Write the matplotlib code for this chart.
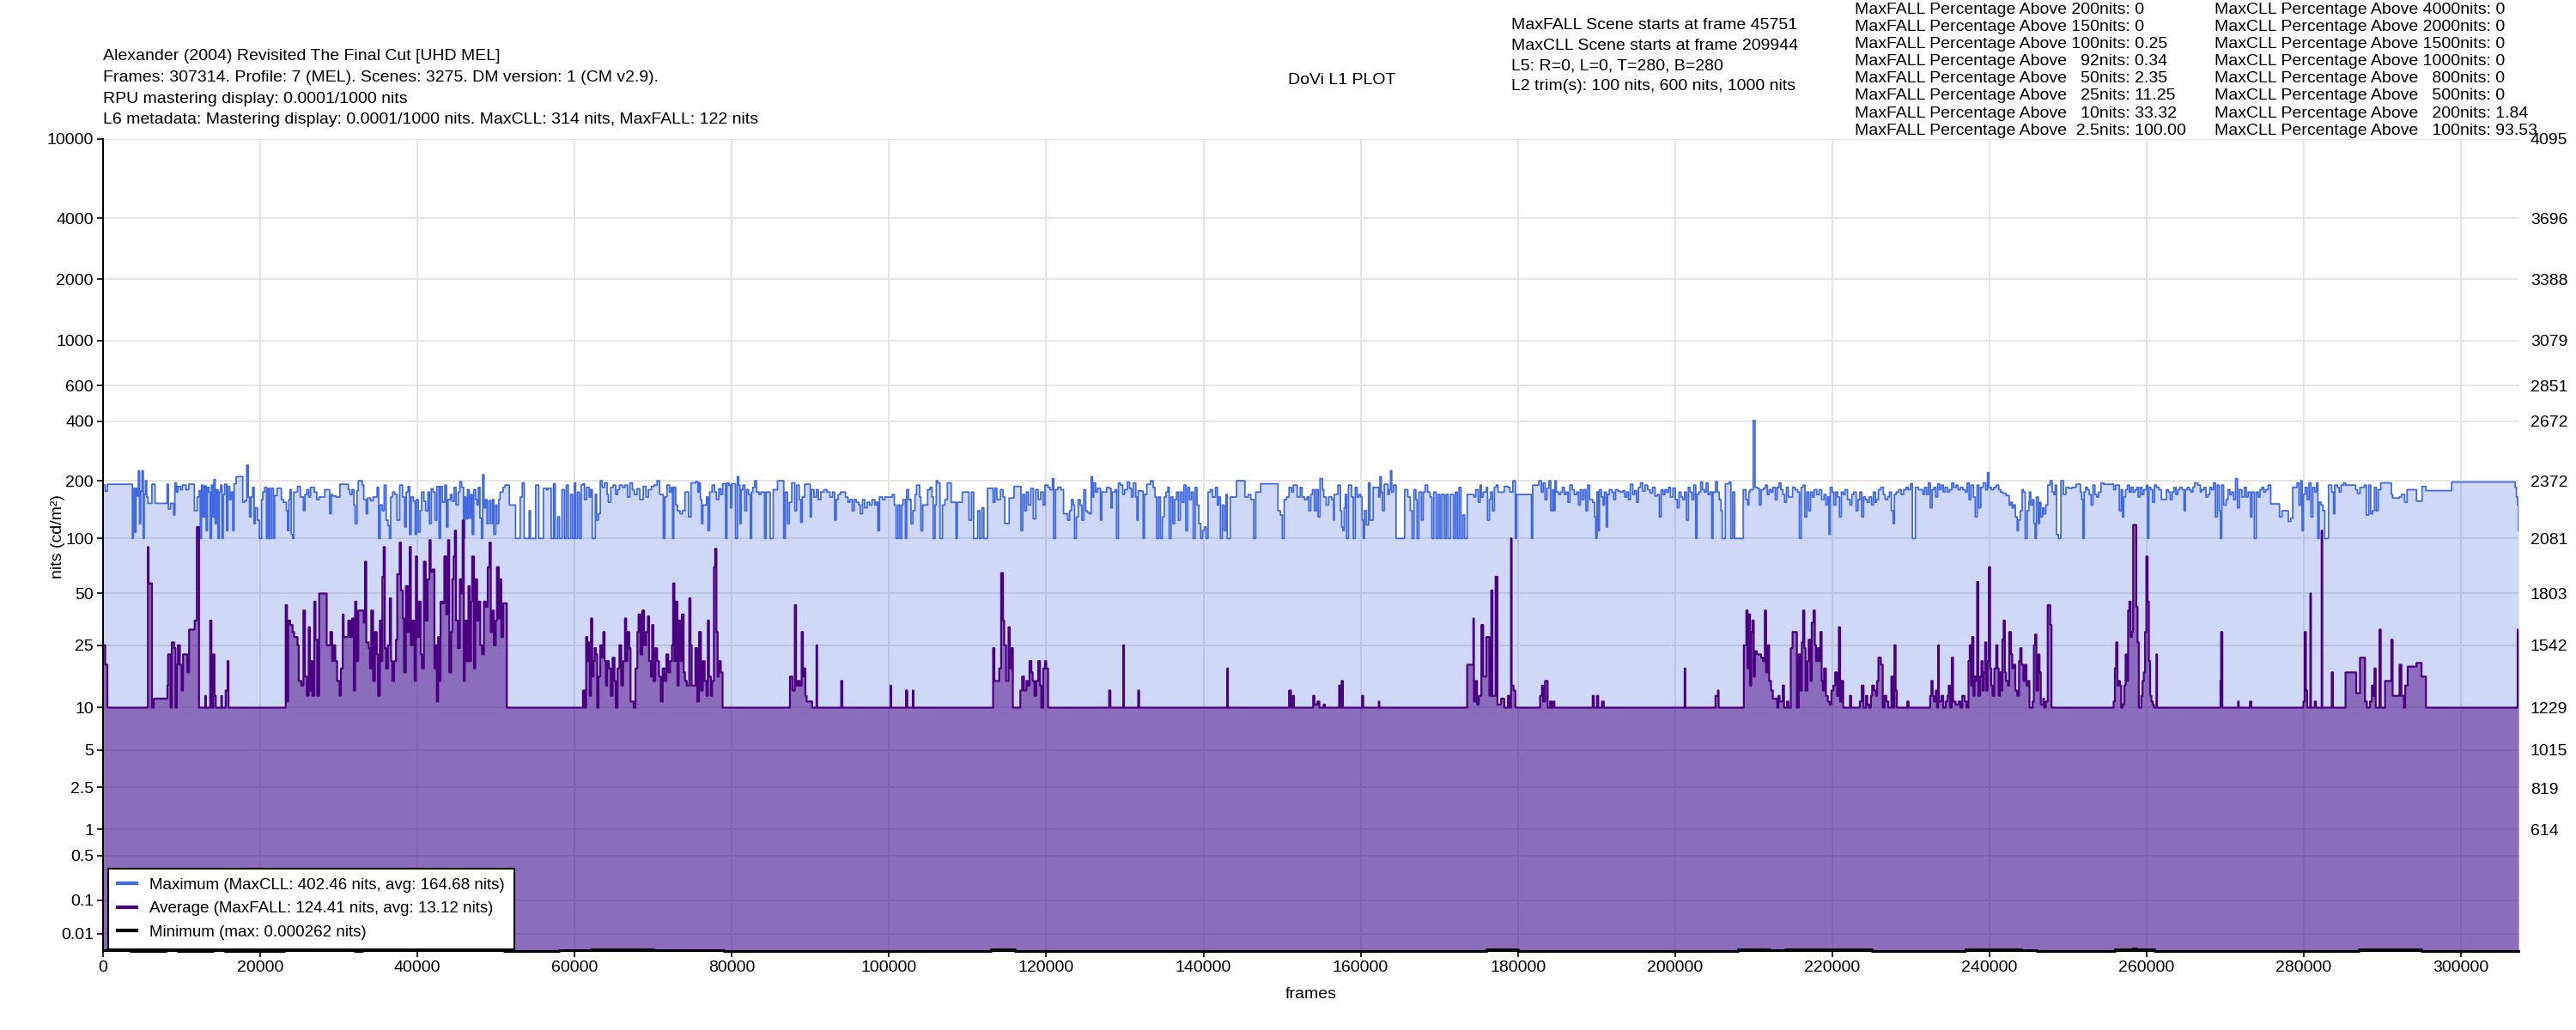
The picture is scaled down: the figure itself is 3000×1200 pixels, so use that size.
#!/usr/bin/env python3
"""DoVi L1 plot: per-scene max / average / min brightness on a PQ axis."""

import numpy as np
import matplotlib
matplotlib.use('Agg')
import matplotlib.pyplot as plt
from matplotlib.lines import Line2D

plt.rcParams['font.family'] = ['Liberation Sans', 'DejaVu Sans']

TOTAL_FRAMES = 307314

# Scene data (start frame, nits)
max_start = [
    0, 275, 550, 3740, 3860, 4020, 4180, 4330, 4490, 4650,
    4800, 4960, 5120, 5240, 5400, 5550, 5710, 6220, 6620, 8150,
    8310, 8590, 8980, 9140, 9340, 9530, 9850, 10090, 10560, 10910,
    11620, 11980, 12210, 12370, 12530, 12720, 12920, 13120, 13280, 13470,
    13630, 13790, 13950, 14110, 14260, 14420, 14620, 14780, 14970, 15130,
    15290, 15480, 15720, 15880, 16110, 16310, 16510, 16670, 16940, 17770,
    18010, 18280, 18480, 18640, 18830, 19030, 19220, 19380, 19660, 19900,
    20170, 20330, 20560, 20800, 21000, 21200, 21430, 21670, 21830, 22140,
    22690, 22930, 23320, 23480, 23640, 23800, 23950, 24110, 24270, 24740,
    25100, 25490, 25690, 25930, 26160, 26400, 26870, 27190, 27500, 28210,
    28840, 29040, 29230, 29630, 30140, 31200, 31400, 31680, 31910, 32070,
    32310, 32470, 32980, 33170, 33490, 33650, 34040, 34360, 34870, 35060,
    35260, 35540, 35770, 36010, 36240, 36440, 36600, 36840, 37110, 37390,
    37740, 38100, 38370, 38570, 38810, 39010, 39200, 39480, 39720, 39870,
    40110, 40340, 40540, 40820, 41050, 41330, 41530, 41760, 42000, 42240,
    42470, 42750, 42940, 43180, 43490, 43690, 43890, 44200, 44400, 44680,
    44910, 45190, 45390, 45620, 45860, 46020, 46170, 46370, 46570, 46770,
    46960, 47160, 47400, 47590, 47750, 47950, 48150, 48300, 48460, 48660,
    48850, 49090, 49330, 49560, 49720, 49960, 50110, 50350, 50510, 50900,
    51140, 51690, 52480, 53070, 53340, 53580, 54210, 54370, 55040, 55430,
    56020, 56420, 56610, 57010, 57320, 57520, 57840, 58070, 58390, 58700,
    58940, 59180, 59490, 59730, 59970, 60120, 60360, 60600, 60830, 61060,
    61260, 61530, 61850, 62050, 62240, 62630, 62790, 63030, 63260, 63500,
    63810, 64130, 64280, 64600, 64910, 65230, 65460, 65700, 66090, 66400,
    66720, 67030, 67350, 67580, 67940, 68290, 68720, 69080, 69390, 69780,
    70100, 70490, 70810, 71040, 71280, 71470, 71750, 72060, 72300, 72460,
    72610, 72850, 73080, 73400, 73710, 74030, 74260, 74500, 74810, 75400,
    75680, 75830, 75990, 76150, 76310, 76540, 76780, 76970, 77170, 77490,
    77800, 78040, 78350, 78590, 78820, 79210, 79370, 79610, 79840, 80000,
    80470, 80710, 80870, 81020, 81180, 81410, 81650, 81880, 82120, 82360,
    82510, 82670, 82910, 83140, 83460, 83690, 84160, 84360, 84870, 85260,
    85810, 86600, 86800, 87070, 87310, 87620, 88010, 88250, 88570, 88760,
    88960, 89270, 89980, 90130, 90450, 90760, 91000, 91310, 91710, 92100,
    92490, 92810, 93080, 93280, 93520, 93830, 94460, 94770, 95010, 95320,
    95560, 95830, 96150, 96340, 96620, 96900, 97210, 97520, 97840, 98190,
    98390, 98580, 98780, 99170, 99490, 99960, 100430, 100670, 100900, 101140,
    101380, 101610, 101770, 102080, 102240, 102480, 102790, 103030, 103300, 103500,
    103890, 104050, 104280, 104600, 104910, 105230, 105460, 105620, 105850, 106010,
    106170, 106480, 106800, 107110, 107420, 107900, 108520, 108680, 109310, 110170,
    110490, 110760, 111280, 111550, 111820, 112060, 112530, 113240, 113470, 113710,
    114180, 114500, 114730, 115280, 115910, 116780, 117010, 117250, 117480, 117720,
    118030, 118350, 118660, 118980, 119290, 119610, 119840, 120230, 120470, 120790,
    120950, 121180, 121490, 121880, 122200, 122500, 122730, 122970, 123200, 123440,
    123600, 123830, 124070, 124310, 124540, 124780, 125020, 125250, 125490, 125720,
    125880, 126040, 126270, 126510, 126900, 127060, 127690, 128000, 128240, 128400,
    128750, 128950, 129180, 129420, 129730, 129970, 130320, 130600, 130840, 131070,
    131390, 131540, 131700, 132020, 132330, 132490, 132800, 133270, 133590, 133830,
    134060, 134300, 134530, 134770, 135010, 135240, 135480, 135640, 135870, 136110,
    136340, 136580, 136810, 137050, 137290, 137520, 137760, 137990, 138230, 138470,
    138700, 138940, 139170, 139410, 139650, 139880, 140120, 140350, 140590, 140900,
    141140, 141530, 141770, 141930, 142160, 142400, 142640, 142870, 143030, 143420,
    144210, 145270, 145700, 146020, 146410, 146650, 147280, 149480, 149790, 150030,
    150270, 150580, 150890, 151210, 151440, 151920, 152310, 152550, 152860, 153180,
    153410, 153650, 153880, 154120, 154350, 154590, 154830, 155140, 155300, 155610,
    155930, 156320, 156560, 156640, 157110, 157420, 157580, 157740, 157900, 158050,
    158210, 158450, 158840, 159070, 159310, 159540, 159780, 160020, 160180, 160330,
    160490, 160730, 161000, 161200, 161590, 162300, 162460, 162620, 162770, 163010,
    163480, 163640, 163800, 163950, 164190, 164500, 165600, 166000, 166310, 166550,
    166780, 167020, 167180, 167410, 167730, 167960, 168200, 168510, 168830, 169060,
    169300, 169610, 169850, 170090, 170320, 170640, 170870, 171110, 171430, 171820,
    172050, 172290, 172520, 172760, 173000, 173230, 173550, 174410, 174650, 174960,
    175200, 175360, 175590, 175990, 176140, 176380, 176540, 176770, 177010, 177250,
    177480, 177870, 178270, 178740, 178980, 179370, 179680, 179840, 181730, 181890,
    182440, 182670, 182990, 183220, 183460, 183700, 183950, 184180, 184420, 184570,
    184730, 184890, 185200, 185440, 185670, 185910, 186140, 186380, 186620, 186930,
    187170, 187480, 187720, 187950, 188190, 188420, 188660, 188890, 189130, 189520,
    189760, 189910, 190070, 190230, 190380, 190620, 190850, 191010, 191250, 191400,
    191640, 191960, 192190, 192430, 192740, 193050, 193370, 193600, 193840, 194070,
    194310, 194620, 194860, 195090, 195330, 195600, 195880, 196190, 196510, 196820,
    197140, 197450, 197760, 198000, 198230, 198470, 198710, 198940, 199180, 199410,
    199730, 200040, 200280, 200510, 200750, 200980, 201220, 201450, 201690, 201920,
    202160, 202390, 202630, 202790, 203020, 203260, 203490, 203730, 203960, 204200,
    204430, 204670, 204830, 205140, 205380, 205610, 205850, 206000, 206400, 206870,
    207100, 207340, 207580, 208680, 209000, 209230, 209390, 209540, 209944, 210170,
    210480, 210720, 210950, 211270, 211500, 211740, 211970, 212210, 212440, 212760,
    212990, 213230, 213460, 213700, 213930, 214170, 214410, 214720, 214950, 215270,
    215580, 215820, 216050, 216290, 216520, 216760, 216990, 217230, 217470, 217700,
    218020, 218330, 218650, 218960, 219200, 219430, 219590, 219740, 219980, 220210,
    220450, 220680, 220920, 221160, 221390, 221630, 221940, 222250, 222490, 222730,
    223040, 223280, 223510, 223750, 223980, 224220, 224450, 224690, 225000, 225240,
    225480, 225630, 225870, 226180, 226500, 226730, 227050, 227280, 227520, 227750,
    227910, 228140, 228460, 228770, 229090, 229400, 229640, 229950, 230190, 230580,
    230980, 231290, 231530, 231760, 232000, 232230, 232470, 232700, 232940, 233170,
    233410, 233650, 233880, 234120, 234350, 234660, 234900, 235210, 235450, 235760,
    236000, 236310, 236620, 236940, 237170, 237410, 237640, 237960, 238190, 238430,
    238660, 238900, 239210, 239530, 239760, 239920, 240230, 240550, 240860, 241170,
    241410, 241720, 242110, 242510, 242740, 242900, 243060, 243290, 243530, 243680,
    243920, 244160, 244320, 244550, 244790, 245020, 245090, 245250, 245490, 245650,
    245810, 245970, 246210, 246370, 246530, 246770, 246930, 247170, 247410, 247730,
    247970, 248210, 248370, 248530, 248770, 249090, 249410, 249730, 250130, 250530,
    251010, 251570, 251730, 251890, 252050, 252210, 252450, 252690, 252930, 253170,
    253410, 253650, 253890, 254200, 254520, 255800, 256040, 256280, 256520, 256760,
    256920, 257080, 257320, 257560, 257800, 258040, 258280, 258520, 258760, 258920,
    259160, 259400, 259640, 259960, 260120, 260280, 260520, 260760, 261000, 261240,
    261560, 261880, 262520, 262760, 263000, 263240, 263480, 263720, 263960, 264200,
    264520, 264760, 264920, 265160, 265400, 265640, 265870, 266110, 266510, 266830,
    266990, 267310, 267550, 267790, 268030, 268270, 268510, 268750, 268990, 269230,
    269390, 269550, 269790, 270110, 270350, 270590, 270830, 271070, 271310, 271550,
    271790, 272110, 272430, 272670, 272910, 273230, 273390, 273700, 273950, 274190,
    274420, 274660, 274900, 275140, 275460, 275780, 276900, 277220, 278020, 278340,
    278580, 279140, 279380, 279620, 279780, 279940, 280180, 280420, 280660, 280900,
    281140, 281380, 281620, 281780, 281940, 282180, 282420, 282660, 283140, 283540,
    283780, 283940, 284260, 284500, 284740, 285060, 285300, 286580, 286820, 287140,
    287700, 287940, 288260, 288500, 288740, 288980, 289220, 289460, 289780, 291130,
    291290, 292170, 292410, 292810, 293130, 294330, 295050, 295530, 298810, 306880,
    307040, 307200, 307300,
]
max_nits = [
    190, 177, 192, 100, 183, 108, 183, 167, 225, 120,
    177, 225, 100, 170, 200, 165, 153, 192, 153, 192,
    143, 153, 133, 195, 175, 187, 180, 190, 180, 192,
    140, 165, 178, 100, 190, 130, 188, 110, 185, 175,
    100, 190, 130, 203, 120, 180, 100, 175, 190, 100,
    170, 192, 110, 187, 160, 175, 110, 193, 210, 155,
    158, 240, 165, 130, 165, 185, 120, 145, 125, 100,
    160, 175, 185, 100, 183, 100, 183, 100, 168, 183,
    160, 155, 140, 110, 160, 180, 105, 100, 175, 187,
    165, 140, 170, 180, 165, 185, 175, 160, 165, 180,
    135, 170, 167, 165, 192, 180, 170, 180, 150, 120,
    178, 200, 190, 160, 135, 163, 158, 165, 185, 100,
    150, 140, 190, 125, 117, 100, 165, 175, 170, 125,
    190, 165, 115, 175, 187, 105, 165, 157, 105, 160,
    108, 140, 175, 157, 140, 175, 120, 182, 175, 125,
    187, 100, 187, 155, 190, 115, 160, 170, 157, 185,
    150, 175, 198, 185, 100, 165, 127, 180, 128, 170,
    105, 180, 160, 150, 185, 128, 100, 215, 145, 160,
    120, 158, 120, 160, 105, 150, 120, 160, 175, 185,
    190, 150, 100, 165, 195, 100, 140, 100, 190, 100,
    183, 180, 183, 100, 193, 100, 130, 100, 180, 100,
    190, 100, 170, 100, 195, 100, 175, 100, 190, 193,
    160, 185, 165, 180, 100, 170, 125, 135, 200, 185,
    195, 170, 155, 185, 190, 170, 180, 190, 185, 190,
    165, 195, 180, 170, 182, 160, 187, 165, 180, 187,
    190, 200, 170, 170, 100, 165, 190, 175, 185, 100,
    185, 150, 140, 135, 140, 175, 175, 130, 195, 198,
    175, 195, 160, 120, 150, 150, 165, 110, 175, 190,
    175, 160, 182, 170, 193, 100, 195, 190, 145, 193,
    100, 210, 190, 120, 180, 190, 140, 180, 170, 100,
    175, 185, 200, 175, 170, 175, 100, 175, 100, 180,
    200, 100, 175, 120, 155, 195, 140, 190, 160, 122,
    165, 192, 130, 180, 165, 180, 160, 175, 180, 175,
    165, 175, 125, 160, 170, 175, 165, 155, 160, 140,
    160, 155, 150, 135, 160, 145, 155, 150, 160, 150,
    155, 110, 165, 160, 165, 165, 170, 150, 100, 150,
    100, 150, 160, 100, 180, 160, 120, 140, 170, 190,
    165, 110, 150, 150, 180, 185, 165, 100, 150, 200,
    195, 100, 150, 160, 195, 155, 100, 155, 175, 125,
    175, 100, 140, 100, 145, 100, 183, 155, 183, 160,
    180, 165, 120, 163, 187, 110, 170, 140, 175, 150,
    183, 127, 180, 160, 175, 150, 190, 185, 180, 205,
    100, 180, 185, 180, 135, 135, 125, 140, 160, 150,
    100, 130, 160, 150, 125, 180, 140, 137, 135, 210,
    165, 195, 175, 183, 125, 175, 185, 183, 145, 175,
    180, 100, 195, 190, 170, 180, 197, 183, 165, 195,
    165, 125, 178, 177, 100, 170, 192, 200, 185, 165,
    100, 165, 100, 130, 165, 175, 185, 100, 165, 120,
    160, 175, 125, 175, 155, 190, 110, 185, 160, 175,
    100, 185, 150, 120, 100, 110, 115, 100, 175, 180,
    165, 185, 150, 165, 100, 150, 110, 170, 100, 165,
    200, 165, 170, 160, 100, 175, 193, 140, 133, 100,
    160, 165, 185, 175, 190, 165, 185, 165, 160, 165,
    140, 170, 180, 140, 180, 130, 205, 180, 165, 150,
    165, 160, 125, 170, 190, 140, 115, 110, 145, 170,
    100, 190, 165, 100, 185, 165, 170, 165, 125, 100,
    140, 118, 195, 125, 185, 165, 210, 175, 140, 192,
    170, 180, 225, 175, 190, 100, 180, 165, 140, 100,
    180, 160, 100, 175, 125, 175, 190, 175, 165, 100,
    175, 100, 170, 100, 170, 100, 170, 100, 170, 100,
    175, 100, 185, 100, 133, 100, 170, 165, 180, 155,
    190, 165, 175, 185, 125, 160, 175, 140, 185, 190,
    175, 175, 187, 185, 175, 200, 100, 170, 100, 190,
    190, 200, 175, 195, 160, 183, 200, 140, 180, 140,
    200, 175, 170, 175, 185, 170, 175, 155, 190, 180,
    170, 175, 150, 180, 160, 180, 140, 190, 160, 155,
    130, 100, 175, 110, 180, 165, 150, 175, 115, 170,
    180, 175, 160, 180, 177, 175, 178, 165, 175, 160,
    192, 170, 178, 155, 185, 195, 177, 190, 180, 173,
    185, 167, 170, 130, 180, 170, 180, 175, 185, 165,
    183, 160, 145, 175, 165, 160, 175, 125, 185, 175,
    160, 190, 100, 170, 175, 197, 180, 175, 195, 170,
    175, 100, 175, 198, 175, 160, 140, 100, 193, 197,
    100, 175, 100, 180, 160, 150, 175, 180, 402.46, 185,
    183, 150, 180, 183, 190, 170, 180, 175, 185, 160,
    185, 195, 180, 170, 155, 185, 165, 165, 185, 180,
    175, 100, 185, 190, 130, 175, 140, 175, 165, 180,
    170, 180, 160, 170, 150, 165, 105, 185, 175, 150,
    175, 165, 130, 175, 170, 180, 160, 150, 170, 175,
    140, 160, 175, 130, 165, 160, 155, 165, 150, 175,
    155, 160, 180, 185, 170, 160, 165, 175, 140, 120,
    170, 175, 180, 170, 180, 185, 180, 193, 100, 185,
    180, 180, 170, 185, 170, 195, 145, 180, 185, 165,
    193, 180, 190, 175, 185, 175, 180, 195, 185, 190,
    180, 185, 180, 175, 195, 160, 190, 165, 130, 190,
    145, 185, 195, 180, 220, 185, 180, 185, 190, 180,
    175, 172, 168, 150, 155, 145, 150, 130, 110, 125,
    140, 180, 175, 100, 140, 155, 175, 150, 160, 120,
    100, 165, 120, 155, 130, 145, 135, 150, 190, 200,
    175, 170, 190, 105, 100, 200, 170, 185, 183, 185,
    192, 175, 160, 100, 175, 185, 180, 170, 150, 190,
    170, 165, 175, 195, 192, 180, 190, 190, 140, 180,
    130, 165, 180, 190, 175, 185, 175, 180, 185, 165,
    185, 170, 180, 190, 100, 185, 180, 155, 190, 185,
    180, 160, 180, 175, 160, 175, 185, 170, 180, 185,
    180, 140, 180, 185, 180, 175, 185, 195, 190, 175,
    180, 185, 165, 170, 185, 180, 195, 130, 190, 140,
    100, 190, 150, 160, 180, 170, 175, 160, 205, 145,
    180, 165, 185, 165, 175, 130, 175, 100, 175, 165,
    180, 185, 175, 180, 190, 152, 130, 140, 123, 128,
    185, 195, 150, 200, 110, 170, 185, 160, 195, 130,
    185, 175, 195, 100, 155, 150, 140, 100, 190, 175,
    135, 190, 185, 175, 190, 195, 190, 180, 172, 185,
    190, 133, 190, 135, 140, 185, 140, 180, 195, 170,
    163, 165, 170, 155, 180, 157, 187, 178, 197, 185,
    165, 150, 110,
]

avg_start = [
    0, 275, 550, 5710, 5790, 6220, 6460, 8190, 8270, 8590,
    8750, 9060, 9220, 9380, 9530, 9770, 10010, 10170, 10480, 10720,
    10950, 11660, 11940, 12210, 13000, 13080, 13630, 13790, 14020, 14180,
    14340, 15050, 15130, 15600, 15840, 15960, 23240, 23400, 23560, 23800,
    24110, 24310, 24740, 24900, 25220, 25490, 25690, 25930, 26160, 26320,
    26480, 26630, 26870, 27030, 27260, 27500, 28450, 28920, 29150, 29310,
    29550, 29780, 30100, 30260, 30500, 30610, 31200, 31440, 31680, 31910,
    32070, 32230, 32470, 33170, 33330, 33490, 33800, 33960, 34120, 34360,
    34590, 34830, 34990, 35220, 35380, 35540, 35700, 35850, 36010, 36240,
    36480, 36640, 36800, 37030, 37270, 37430, 37740, 37900, 38140, 38290,
    38530, 38770, 39010, 39160, 39400, 39640, 39800, 39950, 40190, 40420,
    40580, 40820, 41050, 41290, 41530, 41680, 41920, 42160, 42320, 42470,
    42630, 42790, 42940, 43180, 43420, 43660, 43890, 44050, 44290, 44440,
    44600, 44760, 44910, 45150, 45390, 45620, 45751, 45900, 46020, 46260,
    46490, 46650, 46810, 46960, 47200, 47360, 47590, 47750, 47990, 48220,
    48460, 48700, 48940, 49170, 49330, 49560, 49720, 49960, 50110, 50350,
    50510, 50670, 50900, 51370, 61060, 61300, 61460, 61610, 61770, 61930,
    62080, 62240, 62400, 62550, 62710, 62870, 63030, 63260, 63500, 63650,
    63810, 63970, 64130, 64360, 64600, 64830, 65070, 65230, 65460, 65700,
    65930, 66170, 66400, 66560, 66720, 66950, 67110, 67500, 67740, 67980,
    68130, 68370, 68610, 68840, 69080, 69310, 69470, 69700, 69860, 70020,
    70260, 70490, 70730, 70960, 71200, 71440, 71670, 71910, 72140, 72380,
    72530, 72690, 72850, 73080, 73240, 73480, 73640, 73870, 74030, 74260,
    74580, 74740, 74890, 75360, 75600, 75830, 76070, 76310, 76540, 76780,
    76940, 77090, 77330, 77490, 77720, 77880, 78040, 78190, 78350, 78590,
    78820, 87390, 87700, 88010, 88170, 88410, 88640, 88880, 89040, 89200,
    89350, 89510, 90220, 90770, 90850, 93910, 94060, 100200, 100270, 102160,
    102320, 103020, 103100, 113240, 113400, 113710, 114020, 114260, 114500, 114650,
    114890, 115200, 115360, 115600, 115750, 116700, 116930, 117170, 117480, 117640,
    117870, 118110, 118270, 118500, 118740, 118980, 119210, 119370, 119610, 119840,
    120000, 120230, 128000, 128160, 129810, 129890, 131700, 131820, 143030, 143110,
    150890, 151130, 151370, 151520, 153960, 154120, 154510, 154750, 155300, 155450,
    157260, 157420, 157580, 157740, 160180, 160330, 162300, 162380, 173550, 174340,
    174410, 174650, 174810, 175040, 175360, 175590, 175990, 176380, 176620, 176770,
    177170, 177400, 177870, 178270, 178740, 178900, 179130, 179210, 179450, 179680,
    182830, 183070, 183220, 183460, 183790, 184100, 184260, 184500, 184650, 189520,
    189680, 190070, 190230, 190700, 190930, 201220, 201300, 205140, 205460, 205540,
    208750, 209070, 209230, 209390, 209540, 209700, 209850, 210010, 210170, 210400,
    210720, 210950, 211190, 211420, 211580, 211820, 211970, 212210, 212440, 212680,
    212990, 213150, 213300, 213540, 213700, 213860, 214250, 214410, 214720, 214950,
    215270, 215500, 215740, 215900, 216130, 216290, 216450, 216600, 216840, 217000,
    217230, 217390, 217620, 217780, 217940, 218170, 218330, 218490, 218650, 218800,
    218960, 219190, 219430, 219660, 219900, 220140, 220370, 220610, 220840, 221000,
    221160, 221390, 222250, 222410, 223510, 223750, 223980, 224300, 224450, 224690,
    224920, 225080, 225320, 225560, 225710, 225870, 226180, 226420, 226650, 226890,
    227130, 227520, 227750, 227910, 228060, 228220, 229550, 229710, 232460, 232610,
    232770, 232930, 233170, 233330, 233480, 233560, 233880, 234120, 234430, 234660,
    234820, 234980, 235210, 235370, 235680, 236070, 236310, 236540, 236860, 237090,
    237330, 237490, 237640, 237800, 237960, 238110, 238270, 238430, 238580, 238820,
    238980, 239130, 239290, 239450, 239600, 239760, 239920, 240080, 240230, 240390,
    240620, 240860, 241020, 241170, 241330, 241490, 241640, 241800, 241960, 242110,
    242350, 242510, 242740, 242900, 243130, 243290, 243530, 243760, 243920, 244080,
    244320, 244550, 244710, 244940, 245090, 245490, 245650, 245810, 245970, 246210,
    246370, 246530, 246850, 246930, 247170, 247410, 247730, 247890, 255800, 255960,
    256120, 256280, 256440, 256600, 256760, 256920, 257160, 257320, 257480, 257640,
    257800, 257960, 258120, 258280, 258680, 258840, 259000, 259320, 259480, 259640,
    259800, 259960, 260120, 260280, 260440, 260600, 260760, 260920, 261240, 261320,
    269390, 269470, 269630, 271630, 271710, 273150, 273310, 279940, 280100, 280260,
    280420, 280820, 280900, 281380, 281540, 282260, 282340, 283540, 283700, 285300,
    286660, 287140, 287780, 288020, 288420, 288660, 288820, 288980, 289140, 289620,
    289780, 290330, 291130, 291290, 292170, 292410, 292730, 292890, 293210, 294330,
    294970, 295530, 307200,
]
avg_nits = [
    25, 19, 10, 90, 57, 10, 11.5, 14, 22, 10,
    26, 24, 10, 19, 25, 19, 13, 22, 22, 17,
    31, 35, 115, 10, 12, 10, 35, 10, 22, 12,
    10, 12, 10, 13, 20, 10, 43, 11, 35, 33,
    30, 28, 25, 15, 14, 40, 16, 12, 32, 13,
    20, 12, 45, 27, 12, 50, 25, 30, 20, 25,
    20, 15, 12, 18, 38, 28, 35, 28, 36, 13,
    45, 20, 40, 34, 75, 26, 24, 18, 40, 15,
    30, 22, 12, 35, 20, 62, 90, 24, 18, 25,
    47, 20, 15, 20, 27, 64, 95, 52, 36, 17,
    55, 30, 90, 25, 35, 15, 80, 28, 45, 22,
    18, 75, 35, 60, 98, 66, 68, 18, 25, 11,
    28, 15, 45, 44, 80, 38, 98, 17, 30, 60,
    80, 110, 35, 24, 60, 50, 124.41, 15, 35, 20,
    55, 20, 45, 80, 18, 60, 35, 45, 25, 22,
    45, 42, 70, 95, 30, 40, 25, 35, 70, 36,
    60, 28, 44, 10, 13, 10, 28, 20, 26, 12,
    36, 16, 20, 24, 22, 10, 16, 25, 21, 30,
    20, 14, 20, 18, 12, 21, 15, 10, 18, 25,
    14, 20, 36, 20, 30, 24, 11, 10, 18, 30,
    38, 22, 40, 25, 30, 37, 20, 16, 33, 15,
    24, 20, 16, 11, 18, 15, 22, 17, 20, 25,
    57, 20, 45, 14, 35, 20, 38, 17, 15, 14,
    47, 25, 14, 24, 11, 30, 13, 20, 15, 12,
    35, 16, 12, 15, 70, 88, 30, 16, 20, 17,
    10, 16, 13, 43, 14, 15, 14, 30, 16, 18,
    12, 11, 10, 25, 10, 15, 10, 14, 10, 13,
    10, 13, 10, 24, 15, 15, 18, 65, 35, 25,
    15, 32, 18, 24, 10, 13, 16, 13, 15, 14,
    20, 17, 15, 12, 15, 20, 14, 10, 18, 20,
    18, 10, 13, 10, 25, 10, 13, 10, 18, 10,
    13, 10, 12, 10, 12, 10.5, 11, 10, 10.5, 10,
    14, 10, 15, 10, 12, 10, 11, 10, 19, 36,
    11, 15, 10.5, 12, 33, 16, 28, 12, 52, 12,
    62, 10.5, 11.5, 10, 12, 10, 100, 14, 13, 10,
    12, 14, 11, 15, 10, 11, 10, 11, 10, 12,
    10, 12, 10, 11, 10, 18, 10, 12, 13, 10,
    25, 40, 18, 38, 14, 30, 35, 16, 23, 22,
    22, 21, 20, 40, 17, 25, 15, 13, 11.5, 11.5,
    10, 12, 11, 11, 14, 10, 11, 10, 24, 30,
    30, 10, 22, 13, 26, 40, 24, 13, 20, 27,
    15, 34, 40, 25, 20, 24, 20, 30, 15, 13,
    18, 12, 11, 10.5, 13, 14, 17, 12, 32, 11,
    15, 10, 12, 10, 11, 14, 10, 12, 10.5, 10,
    12, 14, 13, 12, 15, 21, 19, 10, 12, 11,
    10, 16, 10, 25, 13, 10, 11, 10, 12, 15,
    12, 11, 13, 10, 25, 11, 12, 10, 11, 12,
    14, 10, 21, 11, 10.5, 11, 10, 12, 11, 10,
    20, 25, 14, 28, 12, 16, 15, 58, 12, 16,
    20, 13, 17, 26, 13, 20, 70, 18, 14, 12,
    18, 25, 18, 12, 17, 13, 27, 35, 17, 15,
    14, 30, 22, 18, 19, 13, 12, 20, 24, 19,
    15, 19, 14, 15, 10, 11, 25, 29, 13, 22,
    17, 10.5, 11.5, 10, 11, 43, 33, 10, 11, 18,
    26, 14, 15, 14, 10, 10.5, 14, 22, 15, 40,
    45, 28, 30, 118, 42, 26, 10, 12, 15, 17,
    30, 80, 45, 20, 12, 11, 10.5, 10, 22, 10,
    15, 30, 10, 11, 10, 11, 10, 11, 30, 13,
    10, 50, 10, 11, 10, 110, 10, 17, 10, 17,
    12.5, 21, 11, 10, 11, 14, 12, 18, 10, 31,
    10, 15, 27, 12, 19, 12, 10, 14, 18.5, 19.5,
    16, 10, 31,
]

min_start = [0, 3500, 8000, 9500, 14000, 15500, 23000, 26000, 30000, 32000,
             33000, 38000, 40000, 44000, 51000, 58000, 62000, 70000, 79000, 113000,
             116000, 176000, 180000, 208000, 212000, 214000, 225000, 237000, 244000, 246000,
             256000, 258200, 258700, 261000, 287000, 295000]
min_nits = [0.00005, 0, 0.0001, 0, 0.00008, 0, 0.0001, 0.00005, 0.0001, 0,
            0.0001, 0.00015, 0.0001, 0.00015, 0, 0.00005, 0.0001, 0.00008, 0, 0.0001,
            0, 0.0001, 0, 0.0001, 0.00005, 0.0001, 0, 0.0001, 0.00005, 0,
            0.0001, 0.000262, 0.0001, 0, 0.0001, 0]

assert len(max_start) == len(max_nits)
assert len(avg_start) == len(avg_nits)
assert len(min_start) == len(min_nits)

nits_ticks = [0.01, 0.1, 0.5, 1, 2.5, 5, 10, 25, 50, 100, 200, 400, 600, 1000, 2000, 4000, 10000]
nits_labels = ['0.01', '0.1', '0.5', '1', '2.5', '5', '10', '25', '50', '100', '200',
               '400', '600', '1000', '2000', '4000', '10000']
pq_code_ticks = [614, 819, 1015, 1229, 1542, 1803, 2081, 2372, 2672, 2851, 3079, 3388, 3696, 4095]

title_lines = [
    'Alexander (2004) Revisited The Final Cut [UHD MEL]',
    'Frames: 307314. Profile: 7 (MEL). Scenes: 3275. DM version: 1 (CM v2.9).',
    'RPU mastering display: 0.0001/1000 nits',
    'L6 metadata: Mastering display: 0.0001/1000 nits. MaxCLL: 314 nits, MaxFALL: 122 nits',
]
scene_lines = [
    'MaxFALL Scene starts at frame 45751',
    'MaxCLL Scene starts at frame 209944',
    'L5: R=0, L=0, T=280, B=280',
    'L2 trim(s): 100 nits, 600 nits, 1000 nits',
]
fall_lines = [
    'MaxFALL Percentage Above 200nits: 0',
    'MaxFALL Percentage Above 150nits: 0',
    'MaxFALL Percentage Above 100nits: 0.25',
    'MaxFALL Percentage Above   92nits: 0.34',
    'MaxFALL Percentage Above   50nits: 2.35',
    'MaxFALL Percentage Above   25nits: 11.25',
    'MaxFALL Percentage Above   10nits: 33.32',
    'MaxFALL Percentage Above  2.5nits: 100.00',
]
cll_lines = [
    'MaxCLL Percentage Above 4000nits: 0',
    'MaxCLL Percentage Above 2000nits: 0',
    'MaxCLL Percentage Above 1500nits: 0',
    'MaxCLL Percentage Above 1000nits: 0',
    'MaxCLL Percentage Above   800nits: 0',
    'MaxCLL Percentage Above   500nits: 0',
    'MaxCLL Percentage Above   200nits: 1.84',
    'MaxCLL Percentage Above   100nits: 93.53',
]
legend_labels = [
    'Maximum (MaxCLL: 402.46 nits, avg: 164.68 nits)',
    'Average (MaxFALL: 124.41 nits, avg: 13.12 nits)',
    'Minimum (max: 0.000262 nits)',
]

# ST 2084 (PQ) transfer, used as the y-axis scale
M1, M2 = 2610 / 16384, 2523 / 4096 * 128
C1, C2, C3 = 3424 / 4096, 2413 / 4096 * 32, 2392 / 4096 * 32


def pq(nits):
    y = np.clip(np.asarray(nits, dtype=float), 0, 10000) / 10000
    p = y ** M1
    return ((C1 + C2 * p) / (1 + C3 * p)) ** M2


def pq_inv(e):
    e = np.clip(np.asarray(e, dtype=float), 0, 1)
    p = e ** (1 / M2)
    return 10000 * (np.maximum(p - C1, 0) / (C2 - C3 * p)) ** (1 / M1)


def steps(start, vals):
    x = np.append(np.asarray(start, dtype=float), TOTAL_FRAMES)
    y = np.append(np.asarray(vals, dtype=float), vals[-1])
    return x, y


MAX_C = '#4169E1'
AVG_C = '#4B0082'
GRID_C = '#e3e3e3'

fig = plt.figure(figsize=(30, 12), dpi=100)
ax = fig.add_axes([0.04, 0.0767, 0.9377, 0.7883])
ax.set_yscale('function', functions=(pq, pq_inv))

mx, my = steps(max_start, max_nits)
axx, axy = steps(avg_start, avg_nits)
mnx, mny = steps(min_start, min_nits)

ax.fill_between(mx, my, 0, step='post', color=MAX_C, alpha=0.25, linewidth=0)
ax.fill_between(axx, axy, 0, step='post', color=AVG_C, alpha=0.5, linewidth=0)
ax.step(mx, my, where='post', color=MAX_C, lw=1.3)
ax.step(axx, axy, where='post', color=AVG_C, lw=1.6)
ax.step(mnx, mny, where='post', color='black', lw=2.2, clip_on=False)

ax.set_xlim(0, TOTAL_FRAMES)
ax.set_ylim(0, 10000)
ax.set_xticks(np.arange(0, 300001, 20000))
ax.set_xticklabels([str(v) for v in range(0, 300001, 20000)])
ax.set_yticks(nits_ticks)
ax.set_yticklabels(nits_labels)
ax.minorticks_off()
ax.tick_params(axis='both', labelsize=14, length=5, width=1.2, color='black', pad=3)
ax.grid(True, color=GRID_C, linewidth=1.3)
ax.set_axisbelow(True)
for side in ('top', 'right'):
    ax.spines[side].set_visible(False)
for side in ('left', 'bottom'):
    ax.spines[side].set_linewidth(1.5)
ax.set_xlabel('frames', fontsize=14, labelpad=10)
ax.set_ylabel('nits (cd/m²)', fontsize=14)
ax.yaxis.set_label_coords(-0.0155, 0.51)

# PQ code values on the right
ax2 = ax.twinx()
ax2.set_ylim(0, 4095)
ax2.set_yticks(pq_code_ticks)
ax2.set_yticklabels([str(v) for v in pq_code_ticks])
ax2.tick_params(axis='y', labelsize=14, length=0, pad=10)
for side in ax2.spines.values():
    side.set_visible(False)

handles = [Line2D([], [], color=MAX_C, lw=3),
           Line2D([], [], color=AVG_C, lw=3),
           Line2D([], [], color='black', lw=3)]
leg = ax.legend(handles, legend_labels, loc='lower left', bbox_to_anchor=(0.002, 0.002),
                fontsize=13.5, frameon=True, fancybox=False, framealpha=1,
                edgecolor='black', handlelength=1.2, handletextpad=0.8,
                labelspacing=0.55, borderpad=0.6, borderaxespad=0)
leg.get_frame().set_linewidth(1.5)
leg.set_zorder(10)

# header texts (positions in pixels of the 3000x1200 figure)
W, H = 3000, 1200
for i, line in enumerate(title_lines):
    fig.text(120 / W, 1 - (66 + i * 24.5) / H, line, fontsize=14, va='center', ha='left')
for i, line in enumerate(scene_lines):
    fig.text(1760 / W, 1 - (30 + i * 23.5) / H, line, fontsize=14, va='center', ha='left')
fig.text(1563 / W, 1 - 94 / H, 'DoVi L1 PLOT', fontsize=14, va='center', ha='center')
for i, line in enumerate(fall_lines):
    fig.text(2160 / W, 1 - (11 + i * 20.2) / H, line, fontsize=14, va='center', ha='left')
for i, line in enumerate(cll_lines):
    fig.text(2579 / W, 1 - (11 + i * 20.2) / H, line, fontsize=14, va='center', ha='left')

fig.savefig('out.png', dpi=100, facecolor='white')
plt.close(fig)
